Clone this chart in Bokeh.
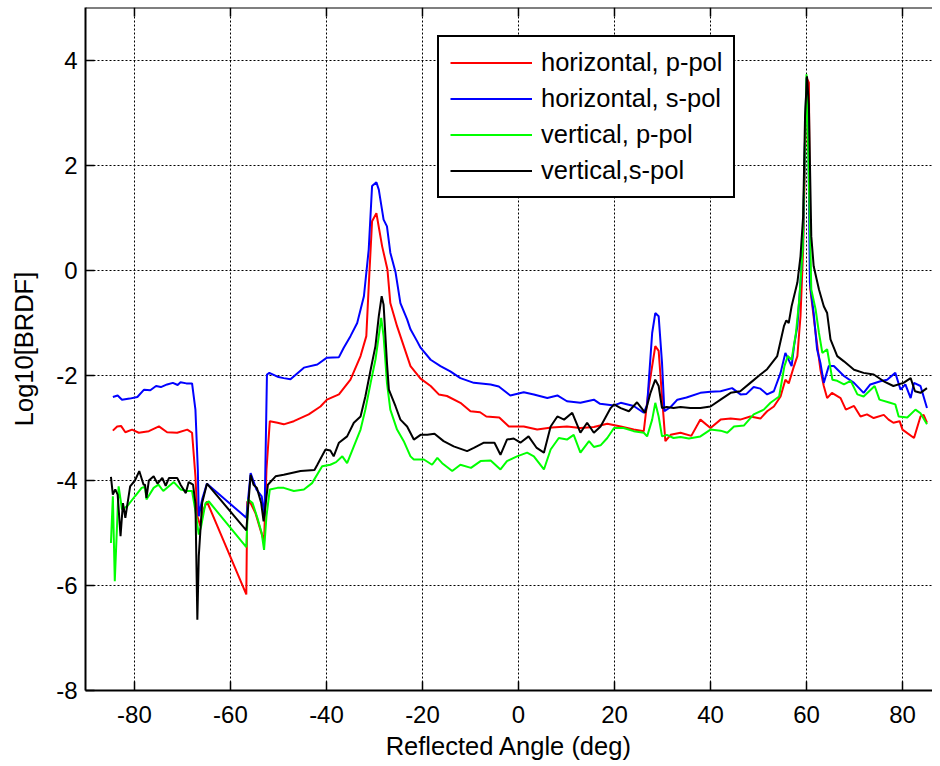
from bokeh.plotting import figure
from bokeh.models import Range1d, FixedTicker, Legend, LegendItem, Span
from bokeh.embed import file_html
from bokeh.resources import INLINE

# ---------------- data ----------------
x_ticks = [-80, -60, -40, -20, 0, 20, 40, 60, 80]
y_ticks = [-8, -6, -4, -2, 0, 2, 4]

labels = ["horizontal, p-pol", "horizontal, s-pol", "vertical, p-pol", "vertical,s-pol"]
colors = ["#ff0000", "#0000ff", "#00ff00", "#000000"]

hp_x = [-84.5, -83.6, -82.8, -81.9, -80.5, -79.1, -77.0, -74.9, -73.2, -71.1, -69.0, -68.0, -67.3, -66.9,
        -66.25, -65.6, -64.9, -56.7, -56.5, -55.8, -54.8, -53.75, -53.0, -52.5, -51.8, -50.2, -48.9, -46.8,
        -43.7, -41.25, -39.9, -37.4, -35.0, -32.9, -31.7, -31.2, -30.5, -29.6, -28.4, -27.3, -26.7, -25.3,
        -23.9, -22.5, -20.4, -18.3, -16.6, -14.9, -12.1, -10.0, -8.0, -6.7, -4.0, -2.0, 1.1, 3.9, 6.9, 10.1,
        12.9, 15.7, 18.5, 21.3, 24.0, 26.1, 27.2, 28.5, 29.2, 29.9, 30.6, 31.7, 33.75, 36.0, 37.9, 40.0,
        42.1, 44.2, 46.2, 48.3, 50.4, 51.8, 53.2, 54.6, 55.6, 56.3, 57.4, 58.1, 58.75, 59.3, 59.7, 60.0,
        60.5, 60.8, 61.9, 62.9, 63.6, 64.3, 65.3, 67.1, 68.2, 69.9, 71.25, 72.6, 74.0, 76.1, 77.1, 78.1,
        79.4, 80.0, 82.4, 83.75, 84.4, 85.1]
hp_y = [-3.05, -2.97, -2.96, -3.08, -3.03, -3.09, -3.06, -2.97, -3.08, -3.09, -3.03, -3.09, -3.92, -4.68,
        -4.87, -4.55, -4.40, -6.17, -4.40, -4.43, -4.62, -4.94, -5.16, -3.79, -2.87, -2.90, -2.93, -2.87,
        -2.74, -2.59, -2.46, -2.36, -2.08, -1.63, -1.25, -0.30, 0.94, 1.09, 0.46, 0.02, -0.62, -1.06,
        -1.44, -1.82, -2.06, -2.20, -2.36, -2.39, -2.52, -2.68, -2.70, -2.78, -2.80, -2.97, -2.97, -3.03, -2.99, -2.97,
        -3.00, -2.98, -2.92, -2.97, -3.03, -3.06, -2.20, -1.44, -1.53, -2.40, -3.25, -3.13, -3.09, -3.15, -2.84, -3.00,
        -2.84, -2.82, -2.84, -2.78, -2.82, -2.68, -2.59, -2.40, -2.08, -2.15, -1.82, -1.63, -0.87, 0.40, 2.20, 3.68,
        3.58, -0.36, -1.19, -1.89, -2.20, -2.43, -2.33, -2.43, -2.65, -2.58, -2.78, -2.74, -2.81, -2.75, -2.84, -2.90,
        -2.87, -3.03, -3.19, -2.78, -2.75, -2.90]

hs_x = [-84.5, -83.5, -82.6, -81.0, -79.4, -78.0, -76.7, -75.5, -74.5, -73.2, -72.0, -71.0, -70.4, -69.2,
        -68.0, -67.3, -66.8, -66.6, -65.9, -64.9, -56.7, -55.8, -54.6, -53.5, -52.9, -52.4, -51.9, -50.0,
        -48.9, -47.5, -44.7, -41.9, -39.9, -37.4, -36.4, -35.0, -33.6, -32.2, -31.2, -30.5, -29.6, -29.1,
        -28.1, -27.4, -26.7, -25.6, -24.6, -23.2, -22.5, -21.1, -20.4, -18.3, -16.25, -14.2, -12.1, -9.3,
        -5.8, -4.1, -1.7, 1.1, 3.2, 6.0, 8.1, 10.1, 12.9, 15.7, 17.0, 19.9, 21.3, 24.0, 26.1, 26.8, 27.85,
        28.5, 29.2, 29.9, 30.4, 31.7, 33.1, 35.0, 37.9, 40.0, 42.1, 44.5, 46.25, 47.5, 49.0, 50.4, 51.8,
        53.2, 54.6, 55.6, 56.9, 57.4, 58.1, 58.75, 59.3, 59.65, 60.0, 60.35, 60.7, 61.5, 62.2, 62.9, 63.6,
        64.65, 65.7, 67.8, 69.9, 71.9, 73.3, 75.4, 76.8, 78.5, 79.6, 80.6, 81.7, 82.4, 83.75, 85.1]
hs_y = [-2.41, -2.38, -2.46, -2.44, -2.41, -2.27, -2.28, -2.20, -2.22, -2.17, -2.14, -2.18, -2.13, -2.15,
        -2.15, -2.65, -3.79, -4.68, -4.36, -4.06, -4.71, -3.86, -4.17, -4.30, -4.68, -1.98, -1.95, -2.03,
        -2.05, -2.07, -1.85, -1.79, -1.66, -1.65, -1.47, -1.25, -1.00, -0.49, 0.40, 1.61, 1.68, 1.54,
        0.97, 0.84, 0.34, -0.04, -0.62, -0.93, -1.12, -1.35, -1.47, -1.70, -1.82, -1.92, -2.05, -2.14,
        -2.17, -2.21, -2.38, -2.32, -2.36, -2.43, -2.38, -2.49, -2.52, -2.46, -2.54, -2.57, -2.52, -2.58, -2.71, -2.56, -1.19,
        -0.81, -0.87, -1.76, -2.68, -2.60, -2.46, -2.42, -2.33, -2.31, -2.30, -2.24, -2.36, -2.35, -2.22, -2.25, -2.36,
        -2.30, -1.95, -1.57, -1.82, -1.44, -1.06, -0.23, 0.65, 2.31, 3.67, 2.94, -0.23, -0.81, -1.50, -1.76, -2.14,
        -1.82, -1.82, -2.01, -2.14, -2.33, -2.17, -2.11, -2.08, -1.95, -2.27, -2.17, -2.43, -2.14, -2.20, -2.62]

vp_x = [-84.9, -84.5, -84.1, -83.3, -82.6, -81.5, -79.9, -78.5, -77.8, -77.5, -76.0, -75.0, -74.0, -71.8,
        -70.4, -69.0, -68.0, -67.3, -66.6, -66.1, -65.2, -64.5, -56.7, -56.3, -55.4, -54.4, -53.5, -53.0,
        -52.5, -51.8, -50.2, -48.9, -46.8, -44.7, -43.0, -40.9, -39.2, -38.0, -36.7, -35.7, -34.3, -32.9,
        -31.9, -30.8, -29.8, -29.1, -28.6, -28.1, -27.4, -26.7, -25.3, -23.9, -22.5, -21.8, -19.7, -18.0,
        -16.9, -15.9, -13.8, -12.1, -9.9, -7.9, -5.8, -3.75, -2.4, -0.3, 1.8, 3.2, 5.3, 6.7, 8.4, 10.1,
        11.5, 12.9, 14.7, 15.7, 17.1, 18.5, 19.9, 21.9, 24.0, 26.1, 26.8, 27.85, 28.5, 29.2, 29.9, 30.9,
        32.3, 33.75, 35.5, 37.9, 40.0, 42.1, 43.5, 44.9, 47.0, 49.0, 51.1, 52.5, 54.3, 55.4, 56.1, 56.9,
        57.8, 58.5, 59.2, 59.7, 60.0, 60.5, 61.0, 61.9, 62.6, 63.3, 64.3, 65.4, 66.4, 67.8, 69.2, 70.6,
        71.9, 74.2, 75.2, 77.4, 78.5, 79.2, 81.0, 82.7, 83.75, 85.1]
vp_y = [-5.19, -4.30, -5.92, -4.11, -4.55, -4.49, -4.30, -4.14, -4.12, -4.36, -4.14, -4.08, -4.20, -4.03,
        -4.17, -4.20, -4.20, -4.58, -5.03, -4.87, -4.43, -4.40, -5.27, -4.36, -4.43, -4.71, -5.00, -5.32,
        -4.68, -4.17, -4.14, -4.14, -4.20, -4.17, -4.05, -3.73, -3.70, -3.65, -3.54, -3.67, -3.35, -3.03,
        -2.65, -2.14, -1.70, -1.25, -0.90, -1.25, -2.14, -2.65, -3.03, -3.25, -3.54, -3.60, -3.60, -3.70,
        -3.57, -3.67, -3.82, -3.70, -3.76, -3.63, -3.62, -3.79, -3.63, -3.54, -3.47, -3.54, -3.79, -3.41, -3.19, -3.22,
        -3.13, -3.47, -3.25, -3.36, -3.33, -3.19, -3.00, -3.00, -3.06, -3.09, -3.16, -2.84, -2.52, -2.78, -3.16, -3.13,
        -3.19, -3.17, -3.20, -3.16, -3.03, -3.05, -3.09, -2.97, -2.95, -2.74, -2.65, -2.52, -2.40, -1.82, -1.63, -1.70,
        -1.19, -0.55, 0.40, 2.50, 3.74, 1.67, -0.36, -0.74, -1.19, -1.57, -1.50, -2.08, -2.10, -2.17, -2.10, -2.36,
        -2.40, -2.20, -2.46, -2.52, -2.55, -2.78, -2.80, -2.65, -2.72, -2.93]

vs_x = [-84.9, -84.5, -84.0, -83.5, -82.9, -82.4, -81.9, -80.9, -79.9, -79.0, -78.1, -77.8, -77.5, -77.0,
        -76.0, -75.2, -74.2, -73.5, -72.8, -71.1, -70.4, -69.3, -68.7, -67.8, -67.3, -66.9, -66.6, -65.9,
        -64.9, -56.7, -55.8, -55.2, -54.5, -53.6, -53.1, -52.2, -50.6, -48.9, -45.4, -42.5, -41.9, -40.2,
        -39.2, -38.5, -37.4, -35.7, -34.3, -32.9, -31.9, -30.8, -29.8, -29.1, -28.5, -28.1, -27.4, -27.0,
        -25.6, -24.6, -23.2, -21.8, -20.4, -19.0, -17.5, -15.6, -13.5, -10.7, -9.3, -7.2, -5.0, -3.75,
        -2.4, -1.0, 0.4, 2.1, 3.8, 5.3, 6.7, 8.1, 9.5, 11.2, 12.9, 14.3, 15.7, 17.1, 19.2, 19.9, 21.3,
        23.0, 24.7, 26.4, 27.5, 28.5, 29.2, 29.9, 30.9, 32.3, 33.75, 35.8, 37.9, 40.0, 42.1, 44.2, 46.2,
        48.3, 50.4, 51.8, 53.9, 55.3, 55.8, 56.3, 56.9, 58.1, 58.75, 59.3, 59.7, 60.1, 60.5, 61.0, 61.5,
        62.6, 63.6, 64.3, 65.0, 66.4, 67.8, 69.9, 71.9, 74.0, 76.1, 78.1, 80.2, 81.7, 82.6, 83.75, 85.1]
vs_y = [-3.93, -4.27, -4.17, -4.27, -5.06, -4.43, -4.71, -4.11, -4.00, -3.82, -4.08, -4.08, -4.33, -4.00,
        -3.92, -4.06, -3.95, -4.10, -3.95, -3.95, -4.08, -4.24, -4.03, -4.08, -4.43, -6.65, -5.44, -4.43,
        -4.06, -4.95, -3.89, -4.08, -4.14, -4.43, -4.78, -4.08, -3.92, -3.89, -3.82, -3.80, -3.70, -3.41,
        -3.43, -3.54, -3.28, -3.16, -2.90, -2.78, -2.40, -1.89, -1.44, -0.87, -0.49, -0.65, -1.76, -2.27,
        -2.59, -2.84, -2.97, -3.22, -3.13, -3.13, -3.11, -3.25, -3.35, -3.44, -3.38, -3.28, -3.28, -3.51,
        -3.22, -3.20, -3.28, -3.16, -3.38, -3.47, -2.97, -2.78, -2.84, -2.71, -3.09, -2.90, -3.09, -2.97, -2.62, -2.55, -2.62,
        -2.68, -2.51, -2.71, -2.33, -2.08, -2.20, -2.62, -2.60, -2.62, -2.60, -2.62, -2.62, -2.59, -2.46, -2.33, -2.30,
        -2.14, -1.98, -1.88, -1.63, -1.06, -0.95, -1.00, -0.68, -0.23, 0.27, 1.03, 2.94, 3.70, 3.15, 0.65, 0.08,
        -0.36, -0.68, -0.81, -1.31, -1.63, -1.73, -1.89, -1.95, -1.98, -2.11, -2.20, -2.14, -2.05, -2.30, -2.33, -2.24]

series_x = [hp_x, hs_x, vp_x, vs_x]
series_y = [hp_y, hs_y, vp_y, vs_y]

# ---------------- figure ----------------
FONT = "Liberation Sans"
X0, X1 = -90.2, 86.25
Y0, Y1 = -8.0, 5.01

p = figure(frame_width=847, frame_height=683,
           x_range=Range1d(X0, X1), y_range=Range1d(Y0, Y1),
           output_backend="svg", toolbar_location=None,
           min_border_left=85, min_border_right=0, min_border_top=7, min_border_bottom=67,
           background_fill_color="white", border_fill_color="white")
p.outline_line_color = None

xt = FixedTicker(ticks=x_ticks, minor_ticks=[])
yt = FixedTicker(ticks=y_ticks, minor_ticks=[])

for ax, t, ticks in ((p.xaxis[0], xt, x_ticks), (p.yaxis[0], yt, y_ticks)):
    ax.ticker = t
    ax.major_label_overrides = {v: str(v) for v in ticks}
    ax.axis_line_width = 2
    ax.axis_line_color = "black"
    ax.major_tick_in = 9
    ax.major_tick_out = 0
    ax.major_tick_line_width = 1.5
    ax.major_tick_line_color = "black"
    ax.minor_tick_line_color = None
    ax.major_label_text_font = FONT
    ax.major_label_text_font_size = "24px"
    ax.major_label_text_color = "black"
    ax.axis_label_text_font = FONT
    ax.axis_label_text_font_size = "25.5px"
    ax.axis_label_text_font_style = "normal"
    ax.axis_label_text_color = "black"

p.xaxis[0].axis_label = "Reflected Angle (deg)"
p.xaxis[0].major_label_standoff = 15
p.xaxis[0].axis_label_standoff = 6
p.yaxis[0].axis_label = "Log10[BRDF]"
p.yaxis[0].major_label_standoff = 8
p.yaxis[0].axis_label_standoff = 15

# top border with inward tick marks
p.add_layout(Span(location=Y1, dimension="width", line_color="black", line_width=2))
p.segment(x0=x_ticks, y0=[Y1] * len(x_ticks), x1=x_ticks, y1=[Y1 - 0.17] * len(x_ticks),
          line_color="black", line_width=1.5)

p.xgrid.ticker = xt
p.ygrid.ticker = yt
for g in (p.xgrid[0], p.ygrid[0]):
    g.grid_line_color = "black"
    g.grid_line_width = 1
    g.grid_line_dash = "2 2"

items = []
for xs, ys, c, lab in zip(series_x, series_y, colors, labels):
    r = p.line(xs, ys, line_color=c, line_width=2)
    items.append(LegendItem(label=lab, renderers=[r]))

legend = Legend(items=items, location=(352, 492), glyph_width=82, glyph_height=29, label_height=29,
                spacing=7, padding=11, margin=0, label_standoff=9,
                label_text_font=FONT, label_text_font_size="25.5px", label_text_color="black",
                border_line_color="black", border_line_width=2, border_line_alpha=1.0,
                background_fill_color="white", background_fill_alpha=1.0)
p.add_layout(legend)

open("out.html", "w").write(file_html(p, INLINE))
